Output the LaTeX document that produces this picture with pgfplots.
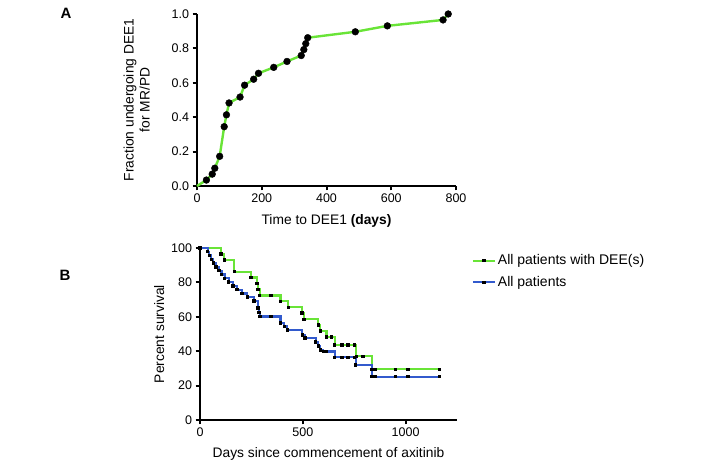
\documentclass[border=0pt]{standalone}
\usepackage{fontspec}
\setmainfont{Liberation Sans}
\usepackage{pgfplots}
\pgfplotsset{compat=1.18}
\definecolor{kmgreen}{RGB}{105,228,55}
\definecolor{kmblue}{RGB}{50,90,205}
\begin{document}
\begin{tikzpicture}[x=1pt,y=1pt]
\useasboundingbox (0,0) rectangle (709,468);
\pgfplotsset{
  common/.style={scale only axis, axis lines=left,
    axis line style={line width=2pt,-},
    every tick/.style={line width=2pt, black},
    major tick length=4.5pt, tick align=outside,
    tick label style={font=\fontsize{12.5}{14}\selectfont},
    label style={font=\fontsize{13.8}{16}\selectfont},
    /pgf/number format/assume math mode=true, clip=false},
  kmmarks/.style={mark=square*, mark size=1.2pt, mark options={black, fill=black, solid, line width=0pt}},
}
% Panel A
\begin{axis}[common, at={(197pt,282pt)}, anchor=south west, width=259pt, height=172pt,
  xmin=0, xmax=800, ymin=0, ymax=1,
  xtick={0,200,400,600,800}, ytick={0,0.2,0.4,0.6,0.8,1.0},
  yticklabel style={/pgf/number format/.cd, fixed, fixed zerofill, precision=1},
  xlabel={Time to DEE1 \textbf{(days)}}, xlabel shift=5pt,
  ylabel={Fraction undergoing DEE1\\for MR/PD}, ylabel style={align=center}, ylabel shift=15pt]
\addplot[kmgreen, line width=2.4pt] coordinates {
(0,0) (29,0.0345) (47,0.069) (55,0.1034) (70,0.1724) (84,0.3448) (91,0.4138)
(99,0.4828) (133,0.5172) (147,0.5862) (175,0.6207) (190,0.6552) (237,0.6897)
(278,0.7241) (322,0.7586) (330,0.7931) (336,0.8276) (342,0.8621) (489,0.8966)
(588,0.9310) (760,0.9655) (776,1.0)};
\addplot[only marks, mark=*, mark size=3.4pt, black] coordinates {
(29,0.0345) (47,0.069) (55,0.1034) (70,0.1724) (84,0.3448) (91,0.4138)
(99,0.4828) (133,0.5172) (147,0.5862) (175,0.6207) (190,0.6552) (237,0.6897)
(278,0.7241) (322,0.7586) (330,0.7931) (336,0.8276) (342,0.8621) (489,0.8966)
(588,0.9310) (760,0.9655) (776,1.0)};
\end{axis}
% Panel B
\begin{axis}[common, at={(200pt,48pt)}, anchor=south west, width=257pt, height=172pt,
  xmin=0, xmax=1250, ymin=0, ymax=100,
  xtick={0,500,1000}, ytick={0,20,40,60,80,100},
  xticklabel style={/pgf/number format/1000 sep={}},
  xlabel={Days since commencement of axitinib}, xlabel shift=4pt,
  ylabel={Percent survival},
  legend style={at={(rel axis cs:1.045,0.985)}, anchor=north west, draw=none, fill=none,
    font=\fontsize{14}{16}\selectfont, row sep=6pt},
  legend cell align=left,
  legend image code/.code={\draw[#1,mark=none] (0pt,0pt) -- (22pt,0pt);
    \draw[#1,only marks] plot coordinates {(11pt,0pt)};}]
\addplot[kmgreen, line width=2.2pt, const plot, kmmarks] coordinates {
(0,100) (102,96.6) (118,93.1) (167,86.2) (248,82.8) (277,79.3) (282,75.9) (290,72.4)
(345,72.4) (392,69.0) (429,65.5) (497,62.1) (505,58.6) (575,55.2) (585,51.7)
(615,48.3) (640,48.3) (655,43.6) (690,43.6) (720,43.6) (752,43.6) (760,37.0)
(792,37.0) (836,29.5) (851,29.5) (950,29.5) (1011,29.5) (1165,29.5)};
\addlegendentry{All patients with DEE(s)}
\addplot[kmblue, line width=2.2pt, const plot, kmmarks] coordinates {
(0,100) (37,97.8) (45,95.6) (55,93.4) (65,91.2) (78,89.0) (92,86.8) (105,84.6)
(120,82.4) (140,80.2) (160,78.0) (180,75.8) (205,73.6) (230,71.4) (262,69.2)
(283,65.0) (287,62.6) (291,60.2) (345,60.2) (392,56.3) (410,54.4) (425,52.4)
(498,49.5) (510,47.6) (563,45.3) (575,43.0) (585,40.7) (600,39.8) (615,39.8)
(655,36.5) (690,36.5) (720,36.5) (752,36.5) (757,32.0) (836,25.2) (851,25.2)
(950,25.2) (1011,25.2) (1165,25.2)};
\addlegendentry{All patients}
\end{axis}
\node[font=\bfseries\fontsize{15}{17}\selectfont] at (66,455) {A};
\node[font=\bfseries\fontsize{15}{17}\selectfont] at (65,193) {B};
\end{tikzpicture}
\end{document}
